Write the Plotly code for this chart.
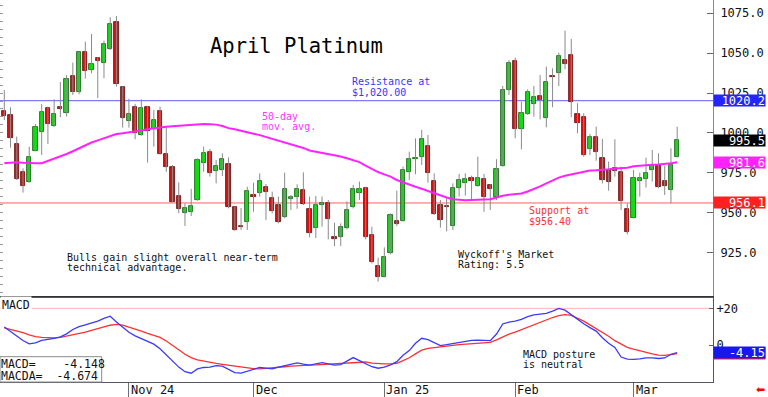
import pandas as pd
import plotly.graph_objects as go

# ---------------- data ----------------
holidays = ["2024-11-28", "2024-12-25", "2025-01-01", "2025-01-20", "2025-02-17"]
dates = [d.strftime("%Y-%m-%d") for d in pd.bdate_range("2024-10-04", "2025-03-12")
         if d.strftime("%Y-%m-%d") not in holidays]

opens = [1013.8, 1011.3, 993.1, 975.5, 969.0, 988.9, 1000.4, 1015.4, 1004.4, 1016.5,
         1012.3, 1035.7, 1025.9, 1050.5, 1039.5, 1046.8, 1043.7, 1052.4, 1069.4, 1028.6,
         1007.7, 1016.1, 998.7, 1016.5, 1002.3, 1013.6, 986.6, 978.9, 960.7, 949.6,
         950.2, 957.8, 981.4, 987.9, 976.4, 976.8, 980.5, 953.8, 941.7, 944.4,
         961.1, 962.1, 966.3, 959.2, 955.0, 947.1, 958.4, 959.6, 964.2, 952.3,
         940.4, 955.0, 955.9, 935.0, 935.0, 940.2, 953.8, 962.6, 965.7, 936.0,
         916.8, 909.9, 924.5, 944.8, 945.0, 975.3, 983.9, 984.7, 992.0, 970.1,
         954.8, 954.4, 941.7, 965.3, 968.8, 971.5, 966.9, 971.1, 967.4, 960.1,
         979.3, 1026.9, 1045.1, 1002.7, 1011.7, 1018.2, 1023.4, 1009.2, 1035.7, 1037.4,
         1045.7, 1048.9, 1011.9, 1009.8, 989.9, 997.7, 984.1, 976.8, 977.8, 975.7,
         952.3, 946.9, 970.1, 971.1, 976.6, 979.9, 969.9, 964.2, 985.1]
highs = [1026.9, 1016.1, 997.7, 977.8, 991.4, 1005.6, 1018.2, 1016.5, 1021.1, 1031.9,
         1036.3, 1044.1, 1051.0, 1057.2, 1062.0, 1047.5, 1057.9, 1072.5, 1073.3, 1029.4,
         1021.5, 1018.2, 1021.1, 1016.9, 1014.4, 1016.5, 1003.5, 979.9, 969.0, 955.9,
         964.9, 984.1, 991.4, 989.9, 983.0, 987.2, 984.7, 954.2, 952.9, 966.3,
         968.8, 974.7, 968.0, 963.2, 960.1, 975.1, 961.1, 967.8, 975.3, 960.1,
         960.5, 960.1, 958.0, 943.8, 943.3, 957.1, 967.4, 969.5, 966.3, 941.2,
         921.8, 928.3, 949.6, 963.8, 978.9, 988.3, 996.6, 1001.9, 998.7, 974.7,
         958.0, 959.6, 968.4, 974.3, 974.7, 973.2, 985.1, 974.3, 967.8, 983.5,
         1029.4, 1045.7, 1047.2, 1019.6, 1027.3, 1029.4, 1036.3, 1041.6, 1040.5, 1050.3,
         1064.1, 1058.9, 1018.6, 1012.3, 999.3, 1003.9, 996.2, 982.0, 996.0, 978.9,
         955.9, 976.8, 975.1, 984.5, 989.3, 987.2, 979.5, 990.4, 1003.9]
lows = [1008.1, 990.8, 970.5, 962.6, 968.8, 988.5, 986.2, 993.1, 1003.9, 1009.8,
        1010.2, 1023.8, 1024.2, 1034.0, 1037.4, 1021.9, 1034.2, 1052.0, 1029.0, 1003.3,
        1003.3, 996.0, 998.3, 981.4, 991.4, 986.5, 975.7, 956.5, 949.6, 941.7,
        947.9, 957.5, 975.7, 972.6, 968.4, 973.0, 952.7, 938.7, 939.2, 939.2,
        950.6, 960.1, 945.4, 949.6, 943.3, 946.5, 951.7, 952.5, 954.8, 934.6,
        934.1, 941.2, 933.3, 929.1, 929.1, 939.6, 952.7, 958.0, 933.3, 918.2,
        906.8, 909.5, 923.9, 941.7, 944.4, 970.5, 974.1, 979.9, 968.8, 948.6,
        940.6, 938.3, 939.2, 960.1, 960.7, 958.0, 966.3, 950.6, 951.7, 958.0,
        978.9, 1023.8, 996.6, 989.7, 1011.3, 1010.2, 1008.5, 1003.5, 1016.1, 1029.4,
        1039.9, 1009.8, 999.8, 985.1, 986.2, 982.6, 968.4, 963.8, 972.6, 951.7,
        936.4, 946.5, 960.1, 965.7, 969.5, 965.3, 961.1, 955.9, 984.7]
closes = [1010.8, 996.6, 971.1, 966.7, 985.1, 1003.7, 1013.3, 1005.6, 1011.9, 1014.8,
          1033.6, 1025.9, 1050.5, 1039.1, 1043.0, 1045.3, 1055.6, 1068.3, 1030.7, 1009.2,
          1011.9, 999.8, 1015.4, 1001.4, 1008.1, 986.8, 978.4, 956.9, 952.3, 952.7,
          954.0, 983.0, 987.2, 974.7, 979.3, 983.7, 953.8, 939.2, 941.0, 963.8,
          960.1, 969.9, 963.2, 951.3, 944.4, 964.6, 960.1, 964.6, 955.5, 937.5,
          954.8, 955.9, 945.8, 933.7, 940.8, 951.7, 964.6, 965.1, 935.0, 919.3,
          909.9, 922.0, 948.6, 942.7, 976.8, 983.5, 984.5, 996.2, 975.1, 949.2,
          945.2, 953.6, 965.5, 970.5, 970.9, 970.1, 971.5, 959.6, 964.9, 977.2,
          1026.9, 1044.1, 1002.3, 1012.3, 1025.7, 1022.5, 1020.7, 1032.2, 1035.2, 1048.5,
          1043.2, 1019.2, 1006.0, 986.2, 997.3, 987.9, 970.5, 969.5, 976.4, 957.5,
          937.7, 971.5, 972.0, 974.7, 979.7, 966.3, 966.9, 979.9, 995.5]
ma50 = [981.0, 981.3, 981.6, 981.3, 981.0, 981.0, 981.0, 982.5, 983.5, 985.2,
        986.8, 988.5, 990.4, 992.3, 994.0, 995.3, 996.6, 998.3, 999.3, 999.8,
        1000.3, 1000.8, 1001.6, 1002.3, 1002.9, 1003.5, 1003.9, 1004.2, 1004.5, 1004.8,
        1005.0, 1005.3, 1005.6, 1005.5, 1005.2, 1004.3, 1003.0, 1002.3, 1001.5, 1000.3,
        999.5, 998.6, 997.5, 996.4, 995.2, 994.0, 993.2, 992.0, 990.6, 989.0,
        988.3, 987.6, 987.0, 986.2, 985.2, 984.1, 983.0, 981.7, 979.5, 977.3,
        975.5, 974.0, 972.6, 970.5, 969.0, 967.5, 966.3, 965.0, 963.6, 962.0,
        960.6, 959.5, 958.5, 958.0, 957.8, 958.0, 958.0, 958.0, 958.4, 959.5,
        960.6, 961.2, 961.6, 962.1, 963.3, 964.8, 966.5, 968.4, 970.2, 972.0,
        973.2, 974.0, 975.0, 975.7, 976.4, 976.6, 976.8, 977.2, 977.7, 978.0,
        978.2, 979.1, 979.5, 979.8, 980.0, 980.2, 980.4, 981.0, 981.6]
macd = [9.8, 7.5, 5.0, 2.5, 0.7, 1.2, 2.5, 3.0, 3.7, 4.5,
        6.1, 8.5, 10.0, 11.0, 12.0, 13.0, 14.5, 15.7, 12.6, 10.0,
        7.0, 5.0, 3.5, 2.0, 0.5, -2.0, -5.5, -9.0, -12.0, -14.5,
        -15.3, -13.0, -12.2, -12.0, -11.2, -11.5, -13.3, -15.0, -15.3, -14.3,
        -13.2, -12.2, -12.5, -13.0, -12.0, -11.2, -10.3, -9.7, -10.4, -10.9,
        -10.2, -9.6, -10.2, -10.9, -10.6, -8.5, -6.8, -8.5, -10.3, -11.8,
        -12.6, -12.0, -10.8, -9.0, -5.5, -3.0, 1.0, 3.7, 3.0, 1.5,
        -0.3, 0.2, 0.8, 1.5, 2.0, 2.6, 2.7, 2.5, 2.4, 6.0,
        11.5, 12.5, 13.0, 14.0, 15.5, 16.5, 17.0, 17.3, 18.5, 20.0,
        19.0, 16.5, 14.0, 11.6, 9.5, 7.6, 4.0, 1.0, -1.3, -6.5,
        -7.6, -7.8, -7.5, -7.0, -7.0, -7.3, -7.0, -5.0, -4.148]
macda = [9.4, 8.6, 7.9, 6.8, 5.5, 4.6, 4.2, 4.0, 3.9, 4.2,
         4.8, 5.4, 6.2, 7.0, 8.0, 9.0, 10.0, 10.8, 11.3, 10.9,
         9.8, 8.9, 7.6, 6.4, 5.3, 4.2, 2.2, 0.0, -2.5, -5.0,
         -6.8, -8.0, -8.8, -9.5, -10.0, -10.5, -11.0, -11.6, -12.1, -12.6,
         -12.8, -13.0, -12.8, -12.4, -12.1, -11.8, -11.5, -11.2, -11.0, -10.9,
         -10.8, -10.6, -10.4, -10.2, -10.0, -9.8, -9.4, -9.1, -9.2, -9.8,
         -10.2, -10.2, -10.2, -10.0, -8.5, -6.9, -4.8, -2.8, -1.8, -1.3,
         -1.0, -0.6, -0.2, 0.2, 0.5, 0.8, 1.1, 1.3, 1.5, 2.8,
         4.5, 6.0, 7.0, 8.3, 10.0, 11.3, 12.5, 13.8, 15.0, 16.0,
         16.6, 16.2, 14.8, 13.0, 11.0, 9.0, 7.0, 4.8, 2.4, 0.5,
         -1.2, -2.2, -3.2, -4.2, -4.8, -5.5, -5.6, -5.2, -4.674]

month_ticks = ["2024-11-01", "2024-12-02", "2025-01-02", "2025-02-03", "2025-03-03"]
month_labels = ["Nov 24", "Dec", "Jan 25", "Feb", "Mar"]
price_ticks = [925, 950, 975, 1000, 1025, 1050, 1075]
resistance = 1020.2
support = 956.1
last_close = 995.5
last_ma = 981.6
macd_last = -4.148
macda_last = -4.674

# ---------------- geometry helpers ----------------
W, H = 768, 397
PL, PR, PB = 0, 55, 15
PW = W - PL - PR
PH = H - PB
MONO = "DejaVu Sans Mono"


def px_x(x):
    return x / PW


def px_y(y):
    return (PH - y) / PH


fig = go.Figure()

# wicks
wx, wy = [], []
for d, h, l in zip(dates, highs, lows):
    wx += [d, d, None]
    wy += [h, l, None]
fig.add_trace(go.Scatter(x=wx, y=wy, mode="lines", line=dict(color="#8a8a8a", width=1),
                         xaxis="x", yaxis="y", hoverinfo="skip"))

# bodies
body_col = ["#10dd10" if c >= o else "#e01010" for o, c in zip(opens, closes)]
edge_col = ["#0a5a0a" if c >= o else "#600808" for o, c in zip(opens, closes)]
fig.add_trace(go.Bar(x=dates, y=[c - o for o, c in zip(opens, closes)], base=opens,
                     marker=dict(color=body_col, line=dict(color=edge_col, width=0.8)),
                     width=0.68, xaxis="x", yaxis="y"))

# moving average
fig.add_trace(go.Scatter(x=dates, y=ma50, mode="lines", line=dict(color="#ff22ff", width=2),
                         xaxis="x", yaxis="y3"))

# MACD
fig.add_trace(go.Scatter(x=dates, y=macda, mode="lines", line=dict(color="#ff3030", width=1.3),
                         xaxis="x2", yaxis="y2"))
fig.add_trace(go.Scatter(x=dates, y=macd, mode="lines", line=dict(color="#3a3aff", width=1.3),
                         xaxis="x2", yaxis="y2"))

price_range = [897.8, 1083.3]
ann = []


def text_block(lines, x, y, color, size=10, gap=10.3, bg=None):
    for i, t in enumerate(lines):
        a = dict(text=t, xref="paper", yref="paper", x=px_x(x - 2), y=px_y(y + i * gap),
                 xanchor="left", yanchor="middle", showarrow=False,
                 font=dict(family=MONO, size=size, color=color))
        if bg:
            a["bgcolor"] = bg
        ann.append(a)


text_block(["April Platinum"], 210, 46, "#000000", size=20.5)
text_block(["Resistance at", "$1,020.00"], 352, 81.7, "#3535ff")
text_block(["50-day", "mov. avg."], 262, 116.5, "#ff33ff")
text_block(["Support at", "$956.40"], 529, 211, "#ff3030")
text_block(["Wyckoff's Market", "Rating: 5.5"], 458, 254, "#111111")
text_block(["Bulls gain slight overall near-term", "technical advantage."], 66.5, 257.3, "#111111")
text_block(["MACD posture", "is neutral"], 523, 354.3, "#111111")
text_block(["MACD"], 2, 304.5, "#111111", size=11.5, bg="#ffffff")
text_block(["MACD=\u00a0\u00a0\u00a0\u00a0-4.148", "MACDA=\u00a0\u00a0-4.674"], 1, 364, "#111111",
           size=11.5, gap=11.7)

# month labels sit to the right of their tick dividers
for d, lab in zip(month_ticks, month_labels):
    ann.append(dict(text=lab, xref="x2", yref="paper", x=d, y=px_y(389.5), xanchor="left",
                    yanchor="middle", xshift=0, showarrow=False,
                    font=dict(family=MONO, size=12, color="#111111")))


def value_box(val, yref, bg, label):
    ann.append(dict(text=label, xref="paper", yref=yref, x=1, y=val, xanchor="left",
                    yanchor="middle", showarrow=False, bgcolor=bg, width=51, height=11,
                    borderpad=0, align="right",
                    font=dict(family=MONO, size=12, color="#ffffff")))


value_box(resistance, "y", "#2424ff", f"{resistance:.1f}")
value_box(last_close, "y", "#000000", f"{last_close:.1f}")
value_box(last_ma, "y", "#ff22ff", f"{last_ma:.1f}")
value_box(support, "y", "#ff2020", f"{support:.1f}")
value_box(macda_last, "y2", "#ff2020", f"{macda_last:.2f}")
value_box(macd_last, "y2", "#1818ee", f"{macd_last:.2f}")

ann.append(dict(text="\u2b05", xref="paper", yref="paper", x=px_x(760), y=px_y(389),
                xanchor="center", yanchor="middle", showarrow=False,
                font=dict(family="DejaVu Sans", size=11, color="#ff0000")))

shapes = [
    dict(type="line", xref="x domain", yref="y", x0=0, x1=1, y0=resistance, y1=resistance,
         line=dict(color="#7c7cff", width=1.2), layer="below"),
    dict(type="line", xref="x domain", yref="y", x0=0, x1=1, y0=support, y1=support,
         line=dict(color="#ff6060", width=1), layer="below"),
    dict(type="line", xref="x2 domain", yref="y2", x0=0, x1=1, y0=20, y1=20,
         line=dict(color="#ffb4b4", width=1), layer="below"),
    dict(type="rect", xref="paper", yref="paper", x0=0, x1=px_x(101.7), y0=0, y1=px_y(356.7),
         line=dict(color="#8a8a8a", width=1), fillcolor="#ffffff", layer="above"),
]

xr = [-0.69, 113.75]
fig.update_layout(
    width=W, height=H, margin=dict(l=PL, r=PR, t=0, b=PB),
    paper_bgcolor="#ffffff", plot_bgcolor="#ffffff", showlegend=False, bargap=0,
    xaxis=dict(domain=[0, 1], anchor="y", type="category", range=xr, showticklabels=False,
               ticks="", showgrid=False, zeroline=False, showline=True, linecolor="#333333",
               linewidth=1.5, categoryorder="trace"),
    xaxis2=dict(domain=[0, 1], anchor="y2", type="category", range=xr, tickmode="array",
                tickvals=month_ticks, showticklabels=False, ticks="outside", ticklen=15,
                tickcolor="#707070", showgrid=False,
                zeroline=False, showline=True, mirror=True, linecolor="#555566",
                categoryorder="trace"),
    yaxis=dict(domain=[px_y(296), 1], anchor="x", side="right", range=price_range,
               tickmode="array", tickvals=price_ticks, tickformat=".1f", ticks="inside",
               ticklen=6, tickcolor="#666666", showline=True, linecolor="#8a8a8a",
               showgrid=False, zeroline=False, ticklabelstandoff=4,
               tickfont=dict(family=MONO, size=12, color="#111111")),
    yaxis3=dict(overlaying="y", anchor="x", side="left", range=price_range, tick0=0, dtick=5,
                ticks="inside", ticklen=3, tickcolor="#9a9a9a", showticklabels=False,
                showgrid=False, zeroline=False, showline=False),
    yaxis2=dict(domain=[0, px_y(297.5)], anchor="x2", side="right", range=[-20.1, 25.9],
                tickmode="array", tickvals=[0, 20], ticktext=["0", "+20"], ticks="inside",
                ticklen=4, tickcolor="#666666", showline=True, linecolor="#555566",
                showgrid=False, zeroline=False,
                tickfont=dict(family=MONO, size=12, color="#111111")),
    annotations=ann, shapes=shapes,
)

fig.write_html("out.html", config={"displayModeBar": False},
               post_script="document.body.style.margin='0';document.body.style.overflow='hidden';")
